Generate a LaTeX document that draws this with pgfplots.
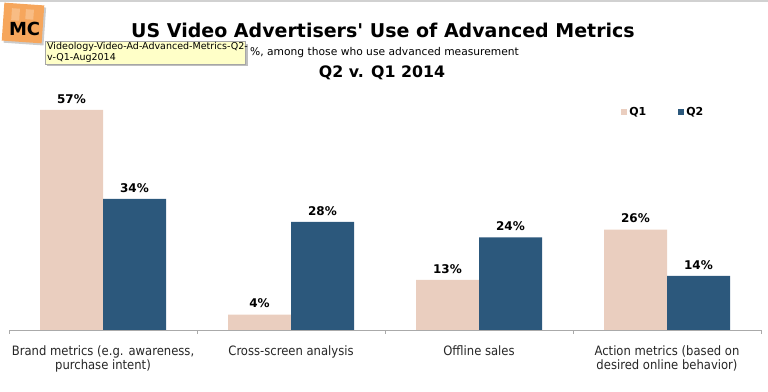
\documentclass[border=0pt]{standalone}
\usepackage{pgfplots}
\pgfplotsset{compat=1.18}
\usepackage{fontspec}
\setmainfont{DejaVu Sans}
\newfontfamily\condfont{DejaVu Sans Condensed}
\definecolor{qone}{RGB}{234,206,191}
\definecolor{qtwo}{RGB}{44,88,124}
\definecolor{axgray}{RGB}{170,170,170}
\definecolor{logoorange}{RGB}{246,166,92}
\definecolor{tipyellow}{RGB}{255,255,200}
\begin{document}
\begin{tikzpicture}
\path[use as bounding box] (0,0) rectangle (768bp,392bp);
\fill[black!18] (0,390bp) rectangle (768bp,392bp);
% logo
\begin{scope}[shift={(23bp,369bp)},rotate=-4]
\fill[black!20] (-18bp,-21bp) rectangle (22bp,17bp);
\fill[logoorange] (-20bp,-19bp) rectangle (20bp,19bp);
\fill[white,opacity=0.25] (-12bp,2bp) rectangle (-4bp,14bp);
\fill[white,opacity=0.25] (2bp,4bp) rectangle (10bp,14bp);
\node[font=\bfseries\fontsize{18bp}{18bp}\selectfont] at (2bp,-6bp) {MC};
\end{scope}
% titles
\node[font=\bfseries\fontsize{19bp}{22bp}\selectfont] at (383bp,{(392-30.5)*1bp}) {US Video Advertisers\textquotesingle{} Use of Advanced Metrics};
\node[anchor=west,font=\fontsize{10.7bp}{12bp}\selectfont,inner sep=0] at (250bp,{(392-53)*1bp}) {\%, among those who use advanced measurement};
\node[font=\bfseries\fontsize{15.8bp}{18bp}\selectfont] at (382bp,{(392-73)*1bp}) {Q2 v. Q1 2014};
\begin{axis}[
  at={(9bp,62bp)}, anchor=south west,
  scale only axis, width=752bp, height=231.6bp,
  ymin=0, ymax=60, xmin=-0.5, xmax=3.5,
  ybar=0pt, bar width=63bp,
  axis x line=bottom, axis y line=none,
  axis line style={axgray,-},
  xtick={0,1,2,3},
  xticklabels={{Brand metrics (e.g. awareness,\\purchase intent)},{Cross-screen analysis},{Offline sales},{Action metrics (based on\\desired online behavior)}},
  major tick length=0pt,
  extra x ticks={-0.5,0.5,1.5,2.5,3.5},
  extra x tick labels={},
  extra x tick style={tick style={axgray}, major tick length=4bp, tick align=outside},
  xticklabel style={align=center, font=\condfont\fontsize{12.9bp}{14bp}\selectfont, text=black!85, yshift=-12bp},
  /pgf/number format/assume math mode=true,
  nodes near coords={\pgfmathprintnumber{\pgfplotspointmeta}\%},
  every node near coord/.append style={font=\bfseries\fontsize{12bp}{13bp}\selectfont, yshift=3bp},
  legend style={at={(0.81,0.94)}, anchor=west, draw=none, fill=none, font=\bfseries\fontsize{11bp}{13bp}\selectfont, legend columns=2},
  legend image code/.code={\fill[#1] (0bp,-3bp) rectangle (6bp,3bp);},
  /tikz/every even column/.append style={column sep=30bp},
  clip=false,
]
\addplot[fill=qone, draw=none] coordinates {(0,57) (1,4) (2,13) (3,26)};
\addplot[fill=qtwo, draw=none] coordinates {(0,34) (1,28) (2,24) (3,14)};
\legend{Q1,Q2}
\end{axis}
% tooltip
\fill[black!25] (47bp,{(392-66)*1bp}) rectangle (248bp,{(392-44)*1bp});
\filldraw[fill=tipyellow, draw=black!35] (45bp,{(392-64)*1bp}) rectangle (245bp,{(392-41)*1bp});
\node[anchor=north west, align=left, inner sep=0, font=\fontsize{9.5bp}{11bp}\selectfont] at (47bp,{(392-42)*1bp}) {Videology-Video-Ad-Advanced-Metrics-Q2-\\v-Q1-Aug2014};
\end{tikzpicture}
\end{document}
